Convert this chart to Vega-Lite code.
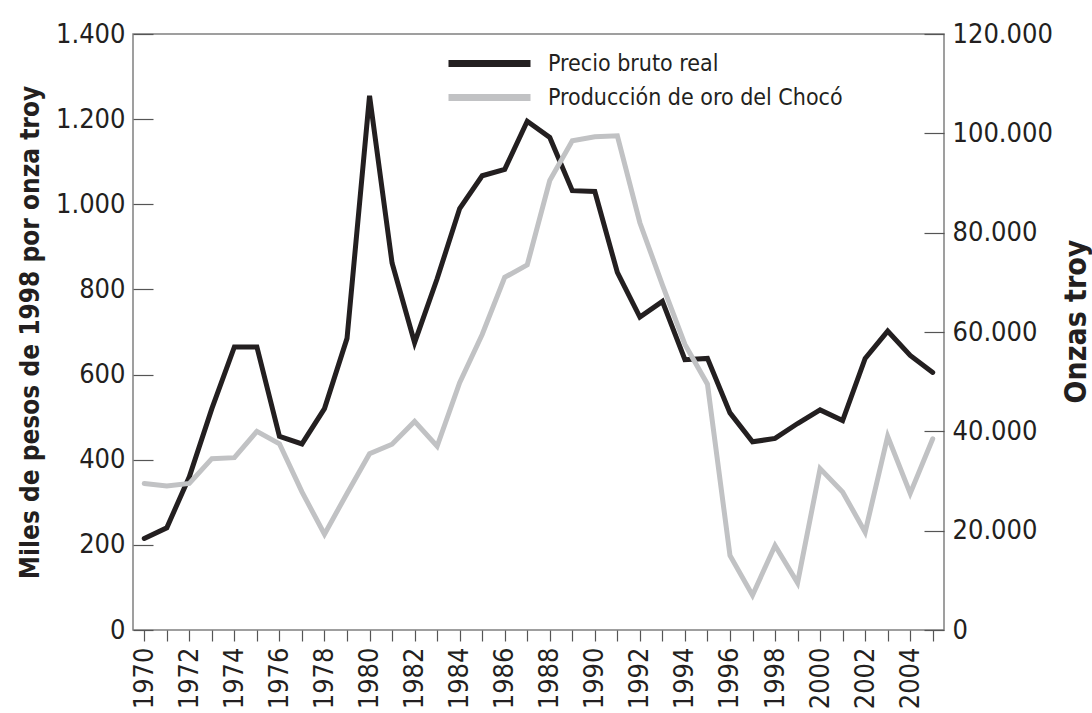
{
  "$schema": "https://vega.github.io/schema/vega-lite/v6.json",
  "width": 811,
  "height": 596,
  "autosize": {"type": "none"},
  "padding": {"left": 133, "top": 34, "right": 148, "bottom": 83},
  "background": "white",
  "config": {
    "font": "DejaVu Sans Condensed, sans-serif",
    "view": {"stroke": "#808080", "strokeWidth": 1.5},
    "axis": {"labelFont": "DejaVu Sans Condensed, sans-serif", "titleFont": "DejaVu Sans Condensed, sans-serif", "labelColor": "#231f20", "titleColor": "#231f20", "tickColor": "#555555", "domain": false, "grid": false},
    "legend": {"labelFont": "DejaVu Sans Condensed, sans-serif", "labelFontSize": 23, "labelLimit": 500, "labelColor": "#231f20", "title": null, "symbolType": "stroke", "symbolSize": 6724, "symbolStrokeWidth": 7, "labelOffset": 14}
  },
  "data": {
    "values": [
      {"year": 1970, "price": 215, "prod": 29500},
      {"year": 1971, "price": 240, "prod": 29000},
      {"year": 1972, "price": 360, "prod": 29500},
      {"year": 1973, "price": 520, "prod": 34500},
      {"year": 1974, "price": 665, "prod": 34700},
      {"year": 1975, "price": 665, "prod": 40000},
      {"year": 1976, "price": 455, "prod": 37500},
      {"year": 1977, "price": 437, "prod": 27800},
      {"year": 1978, "price": 520, "prod": 19300},
      {"year": 1979, "price": 685, "prod": 27500},
      {"year": 1980, "price": 1255, "prod": 35500},
      {"year": 1981, "price": 862, "prod": 37400},
      {"year": 1982, "price": 675, "prod": 42000},
      {"year": 1983, "price": 825, "prod": 37000},
      {"year": 1984, "price": 990, "prod": 49800},
      {"year": 1985, "price": 1067, "prod": 59500},
      {"year": 1986, "price": 1082, "prod": 71000},
      {"year": 1987, "price": 1195, "prod": 73500},
      {"year": 1988, "price": 1157, "prod": 90500},
      {"year": 1989, "price": 1032, "prod": 98500},
      {"year": 1990, "price": 1030, "prod": 99300},
      {"year": 1991, "price": 840, "prod": 99500},
      {"year": 1992, "price": 735, "prod": 82000},
      {"year": 1993, "price": 772, "prod": 69500},
      {"year": 1994, "price": 635, "prod": 57500},
      {"year": 1995, "price": 638, "prod": 49500},
      {"year": 1996, "price": 510, "prod": 15000},
      {"year": 1997, "price": 442, "prod": 7000},
      {"year": 1998, "price": 450, "prod": 17000},
      {"year": 1999, "price": 485, "prod": 9500},
      {"year": 2000, "price": 517, "prod": 32500},
      {"year": 2001, "price": 492, "prod": 27800},
      {"year": 2002, "price": 638, "prod": 19700},
      {"year": 2003, "price": 702, "prod": 39000},
      {"year": 2004, "price": 645, "prod": 27500},
      {"year": 2005, "price": 605, "prod": 38500}
    ]
  },
  "encoding": {
    "x": {
      "field": "year", "type": "quantitative",
      "scale": {"domain": [1969.5, 2005.5], "nice": false, "zero": false},
      "axis": {
        "title": null,
        "values": [1970,1971,1972,1973,1974,1975,1976,1977,1978,1979,1980,1981,1982,1983,1984,1985,1986,1987,1988,1989,1990,1991,1992,1993,1994,1995,1996,1997,1998,1999,2000,2001,2002,2003,2004,2005],
        "labelExpr": "datum.value % 2 == 0 ? format(datum.value, 'd') : ''",
        "labelAngle": -90, "labelFontSize": 27, "labelPadding": 6,
        "tickSize": 11, "tickWidth": 1.2, "labelOverlap": false, "labelFlush": false
      }
    }
  },
  "layer": [
    {
      "mark": {"type": "line", "strokeWidth": 5, "strokeJoin": "miter", "strokeCap": "round"},
      "encoding": {
        "y": {
          "field": "price", "type": "quantitative",
          "scale": {"domain": [0, 1400], "nice": false},
          "axis": {
            "orient": "left", "title": "Miles de pesos de 1998 por onza troy",
            "values": [0, 200, 400, 600, 800, 1000, 1200, 1400],
            "labelExpr": "replace(format(datum.value, ','), ',', '.')",
            "labelFontSize": 27, "labelPadding": 28, "tickSize": -20, "tickWidth": 1.2,
            "titleFontSize": 26, "titleFontWeight": "bold", "titlePadding": 12
          }
        },
        "color": {
          "datum": "Precio bruto real",
          "scale": {"domain": ["Precio bruto real"], "range": ["#231f20"]},
          "legend": {"orient": "none", "legendX": 312, "legendY": -15}
        }
      }
    },
    {
      "mark": {"type": "line", "strokeWidth": 5, "strokeJoin": "miter", "strokeCap": "round"},
      "encoding": {
        "y": {
          "field": "prod", "type": "quantitative",
          "scale": {"domain": [0, 120000], "nice": false},
          "axis": {
            "orient": "right", "title": "Onzas troy",
            "values": [0, 20000, 40000, 60000, 80000, 100000, 120000],
            "labelExpr": "replace(format(datum.value, ','), ',', '.')",
            "labelFontSize": 27, "labelPadding": 28, "tickSize": -20, "tickWidth": 1.2,
            "titleFontSize": 30, "titleFontWeight": "bold", "titleAngle": -90,
            "titleX": 132, "titleY": 287, "titleBaseline": "middle", "titleAlign": "center"
          }
        },
        "color": {
          "datum": "Producción de oro del Chocó",
          "scale": {"domain": ["Producción de oro del Chocó"], "range": ["#c1c2c4"]},
          "legend": {"orient": "none", "legendX": 312, "legendY": 19}
        }
      }
    }
  ],
  "resolve": {"scale": {"y": "independent", "color": "independent"}}
}
